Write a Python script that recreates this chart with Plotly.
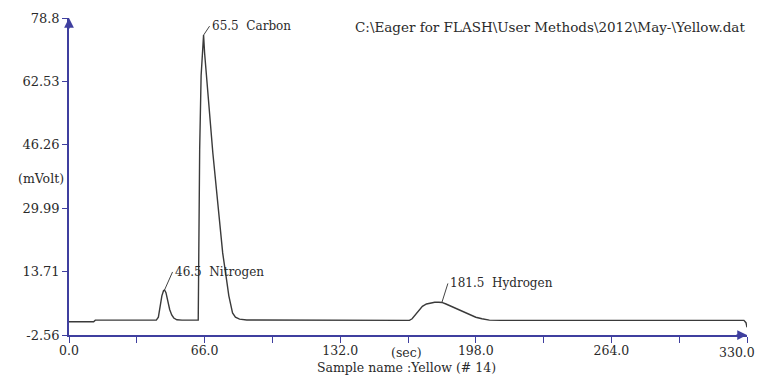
import plotly.graph_objects as go

# --- data ---
time_s = [0, 12.0, 12.8, 42.5, 43.5, 44.3, 45.2, 46.0, 46.5, 47.2, 48.0, 49.0, 50.0, 51.0, 52.5, 55.0,
          62.9, 63.1, 63.6, 64.3, 65.0, 65.5, 66.0, 70.0, 74.8, 75.5, 76.7, 77.8, 78.8, 79.6, 81.0, 83.0, 86.5,
          120.0, 165.7, 167.0, 168.5, 170.0, 172.0, 174.0, 176.0, 178.0, 180.0, 181.5, 183.5, 186.0, 189.0,
          191.5, 195.0, 198.0, 201.0, 204.6, 210.0, 260.0, 328.5, 329.5, 330.0]
signal_mv = [0.85, 0.85, 1.25, 1.25, 2.0, 4.5, 7.5, 8.8, 9.0, 8.3, 6.3, 4.0, 2.6, 1.8, 1.35, 1.25,
             1.25, 25.0, 45.0, 64.0, 72.5, 74.4, 69.8, 44.2, 18.5, 15.5, 11.6, 7.5, 4.6, 3.1, 2.0, 1.5, 1.3,
             1.25, 1.2, 1.6, 2.6, 3.7, 4.8, 5.4, 5.7, 5.85, 5.85, 5.8, 5.4, 4.8, 4.0,
             3.4, 2.6, 2.0, 1.6, 1.25, 1.2, 1.2, 1.2, 0.6, -0.6]

peak_times = [46.5, 65.5, 181.5]
peak_heights = [9.0, 74.4, 5.8]
peak_names = ["Nitrogen", "Carbon", "Hydrogen"]

x_ticks = [0.0, 66.0, 132.0, 198.0, 264.0, 330.0]
x_tick_labels = ["0.0", "66.0", "132.0", "198.0", "264.0", "330.0"]
y_ticks = [-2.56, 13.71, 29.99, 46.26, 62.53, 78.8]
y_tick_labels = ["-2.56", "13.71", "29.99", "46.26", "62.53", "78.8"]

file_path = r"C:\Eager for FLASH\User Methods\2012\May-\Yellow.dat"

AXIS = "#3f3f9f"
TXT = "#2a2a2a"
FONT = "DejaVu Serif"

fig = go.Figure()
fig.add_trace(go.Scatter(x=time_s, y=signal_mv, mode="lines",
                         line=dict(color="#3a3a3a", width=1.4), hoverinfo="skip"))

# peak labels with leader lines
offsets = [(8, -18), (6, -9), (6, -19)]
for t, h, n, (ax, ay) in zip(peak_times, peak_heights, peak_names, offsets):
    fig.add_annotation(x=t, y=h, text=f"{t:.1f}  {n}", showarrow=True, arrowhead=0,
                       arrowwidth=1, arrowcolor="#444", ax=ax, ay=ay, xanchor="left",
                       yanchor="middle", font=dict(family=FONT, size=12, color=TXT))

# axis arrowheads
fig.add_annotation(x=330, y=-2.56, text="", showarrow=True, arrowhead=2, arrowsize=1.3,
                   arrowwidth=1.5, arrowcolor=AXIS, ax=-12, ay=0)
fig.add_annotation(x=0, y=78.8, text="", showarrow=True, arrowhead=2, arrowsize=1.3,
                   arrowwidth=1.5, arrowcolor=AXIS, ax=0, ay=12)

fig.add_annotation(xref="paper", yref="paper", x=1, y=1, yshift=-9, xanchor="right",
                   yanchor="middle", text=file_path, showarrow=False,
                   font=dict(family=FONT, size=13.5, color=TXT))
fig.add_annotation(xref="paper", yref="paper", x=0, y=0.495, xshift=-3, xanchor="right",
                   yanchor="middle", text="(mVolt)", showarrow=False,
                   font=dict(family=FONT, size=12.5, color=TXT))
fig.add_annotation(xref="x", yref="paper", x=164.3, y=0, yshift=-17, xanchor="center",
                   yanchor="middle", text="(sec)", showarrow=False,
                   font=dict(family=FONT, size=12.5, color=TXT))
fig.add_annotation(xref="x", yref="paper", x=164.3, y=0, yshift=-32, xanchor="center",
                   yanchor="middle", text="Sample name :Yellow (# 14)", showarrow=False,
                   font=dict(family=FONT, size=12.5, color=TXT))
# last x tick label sits at the right page edge, so it is right-aligned to stay visible
fig.add_annotation(xref="x", yref="paper", x=x_ticks[-1], y=0, yshift=-17, xshift=10,
                   xanchor="right", yanchor="middle", text=x_tick_labels[-1], showarrow=False,
                   font=dict(family=FONT, size=12.5, color=TXT))

fig.update_xaxes(range=[0, 330], showline=True, linecolor=AXIS, linewidth=1.5, automargin=False,
                 showgrid=False, zeroline=False, tickvals=x_ticks,
                 ticktext=x_tick_labels[:-1] + [""],
                 ticks="outside", ticklen=6, tickcolor=AXIS, tickwidth=1, ticklabelstandoff=-3,
                 minor=dict(ticks="outside", dtick=33, tick0=0, ticklen=6, tickcolor=AXIS, tickwidth=1),
                 tickfont=dict(family=FONT, size=12.5, color=TXT))
fig.update_yaxes(range=[-2.56, 78.8], showline=True, linecolor=AXIS, linewidth=1.5, automargin=False,
                 showgrid=False, zeroline=False, tickvals=y_ticks, ticktext=y_tick_labels,
                 ticks="outside", ticklen=5, tickcolor=AXIS, tickwidth=1,
                 tickfont=dict(family=FONT, size=13, color=TXT))

# the page body adds an 8px margin, so the figure is sized/offset to compensate
fig.update_layout(width=757, height=368, margin=dict(l=61, r=18, t=10, b=41),
                  paper_bgcolor="white", plot_bgcolor="white", showlegend=False)

fig.write_html("out.html")
